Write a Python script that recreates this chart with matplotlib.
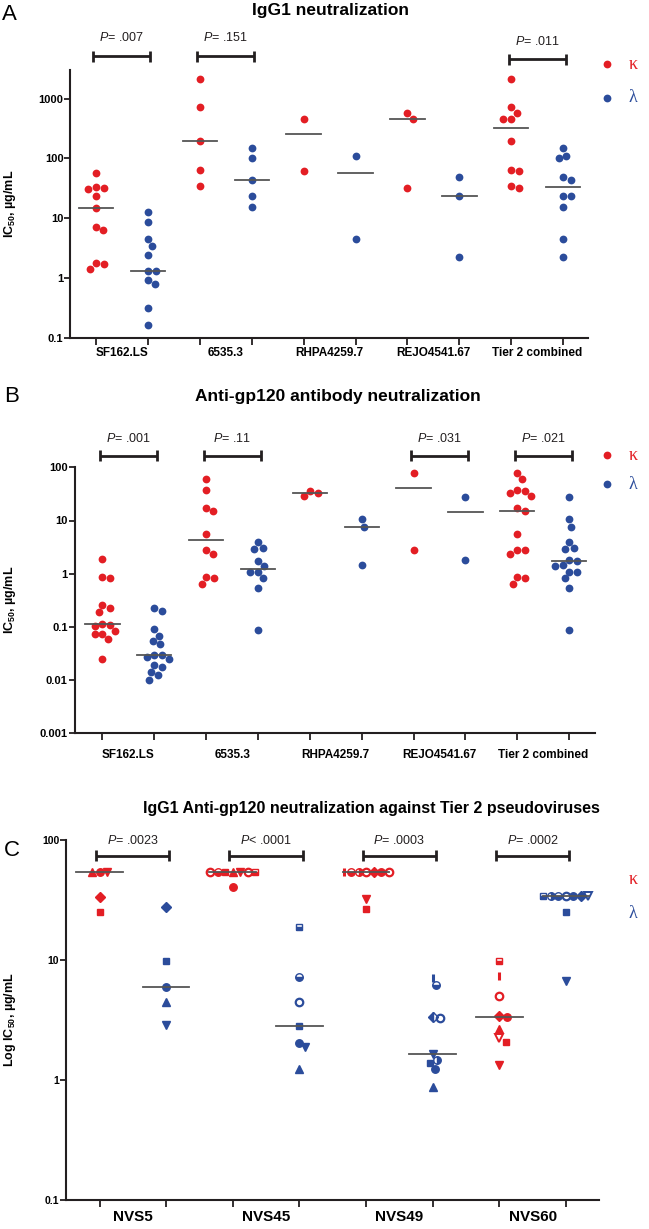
import numpy as np
import matplotlib
matplotlib.use('Agg')
import matplotlib.pyplot as plt
from matplotlib import transforms
from matplotlib.ticker import NullLocator, NullFormatter

plt.rcParams['font.family'] = ['Liberation Sans', 'DejaVu Sans']
plt.rcParams['mathtext.fontset'] = 'custom'
plt.rcParams['mathtext.rm'] = 'Liberation Sans'
plt.rcParams['mathtext.it'] = 'Liberation Sans:italic'
plt.rcParams['mathtext.bf'] = 'Liberation Sans:bold'

RED = '#e31e24'
BLUE = '#2b4c9b'
DARK = '#231f20'
MEDIAN = '#555555'

# ---- panel A: IgG1 neutralization (IC50, ug/mL)
a_viruses = ['SF162.LS', '6535.3', 'RHPA4259.7', 'REJO4541.67']
a_kappa = [
    [57, 33, 31, 32, 23.5, 14.8, 7.0, 6.3, 1.76, 1.71, 1.41],
    [2100, 716, 197, 64, 35],
    [452, 61.5],
    [569, 452, 32.5],
]
a_lambda = [
    [12.6, 8.5, 4.4, 3.4, 2.45, 1.32, 1.32, 0.91, 0.785, 0.31, 0.16],
    [148, 101, 44, 23.5, 15.4],
    [111, 4.4],
    [49, 23.5, 2.26],
]
a_pvals = ['.007', '.151', None, None, '.011']

# ---- panel B: anti-gp120 antibody neutralization
b_viruses = ['SF162.LS', '6535.3', 'RHPA4259.7', 'REJO4541.67']
b_kappa = [
    [1.89, 0.87, 0.82, 0.258, 0.224, 0.188, 0.112, 0.11, 0.106,
     0.083, 0.075, 0.073, 0.0595, 0.0245],
    [60, 37, 17.5, 15.2, 5.6, 2.82, 2.37, 0.88, 0.83, 0.65],
    [36, 33.5, 29],
    [79.5, 2.82],
]
b_lambda = [
    [0.23, 0.202, 0.091, 0.0687, 0.055, 0.047, 0.030, 0.030, 0.0274,
     0.0245, 0.019, 0.0174, 0.014, 0.0123, 0.01],
    [3.93, 3.03, 2.94, 1.7, 1.37, 1.09, 1.06, 0.82, 0.54, 0.089],
    [10.6, 7.6, 1.43],
    [27.5, 1.78],
]
b_pvals = ['.001', '.11', None, '.031', '.021']

# ---- panel C: IgG1 anti-gp120 vs tier 2 pseudoviruses, one symbol per antibody
c_viruses = ['NVS5', 'NVS45', 'NVS49', 'NVS60']
c_kappa = [
    [54, 54, 54, 33.3, 25.3],
    [54, 54, 54, 54, 54, 54, 54, 40.8],
    [54, 54, 54, 54, 54, 54, 54, 32.5, 26.6],
    [9.86, 7.36, 5.04, 3.41, 3.37, 2.65, 2.23, 2.09, 1.33],
]
c_kappa_sym = [
    ['o', 'v', '^', 'D', 's'],
    ['^', 'v', 's', 'O', 'oh', 'sh', 'O', 'o'],
    ['O', 'D', 'ol', 'o', 'oh', 'O', 'I', 'v', 's'],
    ['sh', 'I', 'O', 'D', 'o', '^', 'V', 's', 'v'],
]
c_lambda = [
    [27.4, 9.8, 6.0, 4.44, 2.87],
    [18.9, 7.18, 4.49, 2.82, 2.05, 1.88, 1.23],
    [7.04, 6.19, 3.37, 3.27, 1.65, 1.47, 1.39, 1.235, 0.87],
    [34, 34, 34, 34, 34, 34, 34, 25.3, 6.68],
]
c_lambda_sym = [
    ['D', 's', 'o', '^', 'v'],
    ['sh', 'oh', 'O', 's', 'o', 'v', '^'],
    ['I', 'oh', 'Dh', 'O', 'v', 'ol', 's', 'o', '^'],
    ['O', 'o', 'oh', 'D', 'ol', 'V', 'sh', 's', 'v'],
]
c_pvals = ['= .0023', '< .0001', '= .0003', '= .0002']

SYM = {
    'o': dict(marker='o'),
    '^': dict(marker='^'),
    'v': dict(marker='v'),
    'D': dict(marker='D', ms=4.6),
    's': dict(marker='s', ms=4.6),
    'O': dict(marker='o', fillstyle='none', mew=1.6),
    'V': dict(marker='v', fillstyle='none', mew=1.4),
    'oh': dict(marker='o', fillstyle='bottom'),
    'ol': dict(marker='o', fillstyle='right'),
    'sh': dict(marker='s', fillstyle='bottom', ms=4.6),
    'Dh': dict(marker='D', fillstyle='left', ms=4.6),
    'I': dict(marker='|', mew=2.2),
}

W, H = 649, 1229
fig = plt.figure(figsize=(W / 100, H / 100), dpi=100)


def px_axes(l, t, r, b):
    return fig.add_axes([l / W, 1 - b / H, (r - l) / W, (b - t) / H])


def swarm(ypx, d):
    order = np.argsort(-ypx, kind='stable')
    xs = np.zeros(len(ypx))
    placed = []
    for i in order:
        y = ypx[i]
        cands = [0.0]
        for px, py in placed:
            dy = y - py
            if abs(dy) < d:
                dx = np.sqrt(d * d - dy * dy)
                cands += [px + dx, px - dx]
        cands.sort(key=abs)
        for c in cands:
            if all((c - px) ** 2 + (y - py) ** 2 >= d * d - 1e-6 for px, py in placed):
                xs[i] = c
                break
        placed.append((xs[i], y))
    return xs


def offsets(ax, vals, d):
    vals = np.asarray(vals, float)
    ypx = ax.transData.transform(np.column_stack([np.zeros_like(vals), vals]))[:, 1]
    ppu = ax.transData.transform((1, 1))[0] - ax.transData.transform((0, 1))[0]
    return swarm(ypx, d) / ppu


def style_axes(ax, ylim, yticks, ylabels, xlim, npos, names, labsize, labpad,
               ylabsize=8):
    ax.set_yscale('log')
    ax.set_ylim(*ylim)
    ax.set_xlim(*xlim)
    ax.set_yticks(yticks, labels=ylabels)
    ax.yaxis.set_minor_locator(NullLocator())
    ax.set_xticks(range(npos))
    ax.xaxis.set_major_formatter(NullFormatter())
    ax.set_xticks([2 * k + 0.5 for k in range(len(names))], labels=names, minor=True)
    for s in ['top', 'right']:
        ax.spines[s].set_visible(False)
    for s in ['left', 'bottom']:
        ax.spines[s].set_linewidth(1.5)
        ax.spines[s].set_color(DARK)
    ax.tick_params(axis='y', which='major', length=4, width=1.3, pad=1,
                   labelsize=ylabsize, color=DARK)
    ax.tick_params(axis='x', which='major', length=5, width=1.3, color=DARK)
    ax.tick_params(axis='x', which='minor', length=0, pad=labpad, labelsize=labsize)
    for t in ax.get_yticklabels() + ax.get_xticklabels(minor=True):
        t.set_fontweight('bold')


def brackets(ax, pvals, ybr, ytx, axh):
    trans = transforms.blended_transform_factory(ax.transData, ax.transAxes)
    h = 5.5 / axh
    for k, p in enumerate(pvals):
        if p is None:
            continue
        x0, x1 = 2 * k - 0.05, 2 * k + 1.05
        yb = ybr[k] if isinstance(ybr, list) else ybr
        yt = ytx[k] if isinstance(ytx, list) else ytx
        kw = dict(color=DARK, lw=2.0, transform=trans, clip_on=False,
                  solid_capstyle='butt')
        ax.plot([x0, x1], [yb, yb], **kw)
        ax.plot([x0, x0], [yb - h, yb + h], **kw)
        ax.plot([x1, x1], [yb - h, yb + h], **kw)
        txt = p if p[0] in '=<' else '= ' + p
        ax.text((x0 + x1) / 2, yt, r'$P$' + txt, transform=trans,
                ha='center', va='center', fontsize=9, color=DARK)


def dot_panel(ax, kappa, lam):
    groups = kappa + [sum(kappa[1:], [])]
    groups_l = lam + [sum(lam[1:], [])]
    for k in range(len(groups)):
        for j, (vals, col) in enumerate([(groups[k], RED), (groups_l[k], BLUE)]):
            pos = 2 * k + j
            off = offsets(ax, vals, 8.0)
            ax.plot(pos + off, vals, 'o', color=col, ms=5.6, mec='none',
                    zorder=3, clip_on=False)
            med = np.median(vals)
            ax.plot([pos - 0.33, pos + 0.33], [med, med], color=MEDIAN,
                    lw=1.3, zorder=4)


def legend_dots(ys, dots=True):
    for y, col, txt in zip(ys, [RED, BLUE], ['κ', 'λ']):
        if dots:
            fig.lines.append(plt.Line2D([607 / W], [1 - y / H], marker='o',
                                        color=col, ms=5.6, mec='none',
                                        transform=fig.transFigure))
        fig.text(633 / W, 1 - y / H, txt, color=col, fontsize=13,
                 family=['Liberation Serif', 'DejaVu Serif'],
                 ha='center', va='center')


# ---------------- A
axA = px_axes(70.4, 70, 587.7, 337.7)
style_axes(axA, (0.1, 3000), [0.1, 1, 10, 100, 1000],
           ['0.1', '1', '10', '100', '1000'], (-0.49, 9.47), 10,
           a_viruses + ['Tier 2 combined'], 8.5, 7)
dot_panel(axA, a_kappa, a_lambda)
brackets(axA, a_pvals, [1.052, 1.052, None, None, 1.040],
         [1.12, 1.12, None, None, 1.106], 267.7)
fig.text(331 / W, 1 - 10 / H, 'IgG1 neutralization', ha='center', va='center',
         fontsize=12.5, fontweight='bold')
fig.text(9 / W, 1 - 15 / H, 'A', fontsize=16, ha='center', va='center')
fig.text(10 / W, 1 - 204 / H, r'IC$_{\mathbf{50}}$, µg/mL', rotation=90,
         ha='center', va='center', fontsize=9, fontweight='bold')
legend_dots([64.3, 97.7])

# ---------------- B
axB = px_axes(74.5, 467.3, 595, 733.3)
style_axes(axB, (0.001, 100), [0.001, 0.01, 0.1, 1, 10, 100],
           ['0.001', '0.01', '0.1', '1', '10', '100'], (-0.54, 9.5), 10,
           b_viruses + ['Tier 2 combined'], 8.5, 11)
dot_panel(axB, b_kappa, b_lambda)
brackets(axB, b_pvals, 1.0425, 1.109, 266)
fig.text(338 / W, 1 - 397 / H, 'Anti-gp120 antibody neutralization',
         ha='center', va='center', fontsize=12.5, fontweight='bold')
fig.text(12 / W, 1 - 397 / H, 'B', fontsize=16, ha='center', va='center')
fig.text(10 / W, 1 - 600 / H, r'IC$_{\mathbf{50}}$, µg/mL', rotation=90,
         ha='center', va='center', fontsize=9, fontweight='bold')
legend_dots([455, 484.3])

# ---------------- C
axC = px_axes(66.2, 840, 599.3, 1200)
style_axes(axC, (0.1, 100), [0.1, 1, 10, 100], ['0.1', '1', '10', '100'],
           (-0.5, 7.5), 8, c_viruses, 11, 7, ylabsize=7.5)
for k in range(len(c_viruses)):
    for j, (vals, syms, col) in enumerate([(c_kappa[k], c_kappa_sym[k], RED),
                                           (c_lambda[k], c_lambda_sym[k], BLUE)]):
        pos = 2 * k + j
        off = offsets(axC, vals, 7.5)
        for v, o, s in zip(vals, off, syms):
            st = dict(ms=5.4, mew=1.0)
            st.update(SYM[s])
            axC.plot(pos + o, v, linestyle='none', color=col, mec=col,
                     markerfacecoloralt='white', zorder=3, clip_on=False, **st)
        med = np.median(vals)
        axC.plot([pos - 0.35, pos + 0.35], [med, med], color=MEDIAN, lw=1.3,
                 zorder=4)
brackets(axC, c_pvals, 0.9556, 1.0, 360)
fig.text(371 / W, 1 - 808 / H,
         'IgG1 Anti-gp120 neutralization against Tier 2 pseudoviruses',
         ha='center', va='center', fontsize=11.5, fontweight='bold')
fig.text(12 / W, 1 - 850 / H, 'C', fontsize=16, ha='center', va='center')
fig.text(10 / W, 1 - 1020 / H, r'Log IC$_{\mathbf{50}}$, µg/mL', rotation=90,
         ha='center', va='center', fontsize=9, fontweight='bold')
legend_dots([880, 913.3], dots=False)

fig.savefig('out.png', dpi=100)
